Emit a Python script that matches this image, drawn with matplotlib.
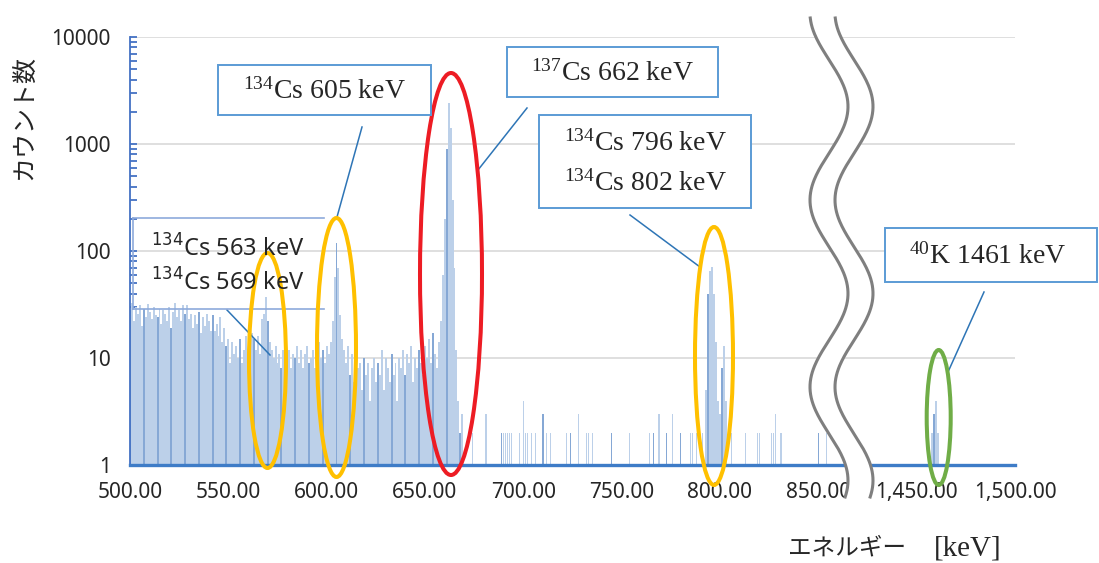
import matplotlib
matplotlib.use('Agg')
import matplotlib.pyplot as plt
from matplotlib.patches import Ellipse, Rectangle
import numpy as np

plt.rcParams['mathtext.fontset'] = 'custom'
plt.rcParams['mathtext.rm'] = 'Liberation Serif'
plt.rcParams['mathtext.it'] = 'Liberation Serif:italic'
plt.rcParams['mathtext.bf'] = 'Liberation Serif:bold'

# ---------------- data ----------------
dense_start_keV = 500          # 1 keV bins, 500 ... 669 keV
dense_counts = [
    28, 33, 22, 30, 26, 31, 20, 29, 24, 32,
    27, 23, 30, 25, 24, 29, 21, 28, 26, 22,
    30, 19, 27, 33, 24, 28, 22, 31, 26, 31,
    23, 26, 19, 25, 21, 27, 17, 24, 20, 26,
    22, 18, 25, 18, 21, 16, 24, 14, 19, 13,
    15, 9, 14, 11, 13, 10, 15, 9, 12, 16,
    11, 14, 17, 15, 12, 16, 11, 23, 26, 37,
    22, 14, 12, 10, 13, 9, 11, 8, 12, 10,
    9, 12, 8, 11, 10, 13, 9, 12, 8, 11,
    13, 9, 10, 12, 8, 11, 14, 10, 12, 9,
    13, 11, 14, 22, 57, 118, 70, 25, 15, 12,
    9, 13, 7, 11, 6, 10, 8, 9, 5, 10,
    7, 9, 4, 8, 10, 6, 9, 7, 12, 5,
    10, 8, 6, 11, 7, 9, 4, 10, 8, 12,
    7, 11, 9, 13, 6, 10, 8, 12, 9, 7,
    13, 10, 15, 9, 17, 11, 8, 14, 22, 60,
    200, 900, 2400, 1400, 300, 70, 12, 4, 2, 3,
]
sparse_energy = [674, 681, 689, 690, 691, 692, 693, 694, 698, 700, 701, 702, 704, 706,
                 710, 712, 714, 722, 724, 728, 732, 733, 735, 745, 754, 764, 766, 769,
                 773, 776, 780, 785, 786, 788, 791,
                 793, 794, 795, 796, 797, 798, 799, 800, 801, 802, 803, 806,
                 813, 819, 820, 826, 827, 828, 831, 850, 854,
                 1458, 1459, 1460, 1461]
sparse_counts = [2, 3, 2, 2, 2, 2, 2, 2, 2, 4, 2, 2, 2, 2,
                 3, 2, 2, 2, 2, 3, 2, 2, 2, 2, 2, 2, 2, 3,
                 2, 3, 2, 2, 2, 2, 2,
                 5, 40, 65, 71, 40, 14, 4, 3, 8, 13, 4, 2,
                 2, 2, 2, 2, 2, 3, 2, 2, 2,
                 2, 3, 4, 2]
x_ticks_keV = [500, 550, 600, 650, 700, 750, 800, 850, 1450, 1500]
x_tick_labels = ['500.00', '550.00', '600.00', '650.00', '700.00', '750.00',
                 '800.00', '850.00', '1,450.00', '1,500.00']
y_ticks = [1, 10, 100, 1000, 10000]
y_tick_labels = ['1', '10', '100', '1000', '10000']

# axis break: 875 ... 1425 keV removed
BREAK_SHIFT = 550
def to_plot_x(e):
    e = np.asarray(e, dtype=float)
    return np.where(e > 1000, e - BREAK_SHIFT, e)

# ---------------- figure ----------------
W, H = 1099, 563
fig = plt.figure(figsize=(W / 100, H / 100), dpi=100)
ax = fig.add_axes([130 / W, (H - 465) / H, 885 / W, 428 / H])

LIGHT = '#BCD0E9'
DARK = '#86A8D5'
AXBLUE = '#4472C4'

energy = np.concatenate([np.arange(dense_start_keV, dense_start_keV + len(dense_counts)),
                         np.array(sparse_energy)])
counts = np.concatenate([np.array(dense_counts), np.array(sparse_counts)]).astype(float)
mask = counts > 1
energy = energy[mask]
counts = counts[mask]
colors = [DARK if int(e) % 7 == 3 else LIGHT for e in energy]
widths = [1.0 if (e < 670 or 792 <= e <= 804 or e > 1000) else 0.55 for e in energy]
ax.bar(to_plot_x(energy), counts - 1, bottom=1, width=widths, color=colors,
       linewidth=0, zorder=2)

ax.set_yscale('log')
ax.set_ylim(1, 10000)
ax.set_xlim(500, 950)
ax.set_yticks(y_ticks)
ax.set_yticklabels(y_tick_labels)
ax.yaxis.set_minor_formatter(matplotlib.ticker.NullFormatter())
ax.set_xticks(to_plot_x(x_ticks_keV))
ax.set_xticklabels(x_tick_labels)

for lab in ax.get_xticklabels() + ax.get_yticklabels():
    lab.set_family('Noto Sans')
    lab.set_fontsize(15)
    lab.set_color('#262626')
ax.tick_params(axis='x', length=0, pad=12)
ax.tick_params(axis='y', which='both', direction='in', length=5, width=1.3,
               color=AXBLUE, pad=14)
ax.grid(axis='y', which='major', color='#D9D9D9', linewidth=1.2, zorder=0)
ax.set_axisbelow(True)
for s in ['top', 'right']:
    ax.spines[s].set_visible(False)
ax.spines['left'].set_color(AXBLUE)
ax.spines['left'].set_linewidth(1.3)
ax.spines['bottom'].set_color('#3E7CC7')
ax.spines['bottom'].set_linewidth(2.4)
ax.spines['bottom'].set_zorder(3)

# ---------------- overlay in pixel coordinates ----------------
ov = fig.add_axes([0, 0, 1, 1])
ov.set_xlim(0, W)
ov.set_ylim(H, 0)
ov.axis('off')
ov.patch.set_alpha(0)

# axis break (wavy lines)
yy = np.linspace(18, 497, 300)
xl = 829 - 19 * np.cos(2 * np.pi * (yy - 200) / 187)
xr = xl + 25
ov.fill_betweenx(yy, xl, xr, color='white', zorder=1)
ov.plot(xl, yy, color='#7F7F7F', lw=2.2, zorder=2)
ov.plot(xr, yy, color='#7F7F7F', lw=2.2, zorder=2)

# leader lines
LEAD = '#2E75B6'
for (x0, y0, x1, y1) in [(362, 127, 337, 217), (527, 108, 478, 170),
                         (630, 215, 700, 267), (984, 292, 948, 372),
                         (227, 310, 270, 355)]:
    ov.plot([x0, x1], [y0, y1], color=LEAD, lw=1.1, zorder=3)

# ellipses
for (cx, cy, w, h, c) in [(267.5, 360.5, 37, 215, '#FFC000'),
                          (336.5, 347.5, 39, 259, '#FFC000'),
                          (451, 274, 62, 402, '#ED1C24'),
                          (714, 356, 38, 258, '#FFC000'),
                          (938.7, 417.5, 24, 135, '#70AD47')]:
    ov.add_patch(Ellipse((cx, cy), w, h, fill=False, edgecolor=c, lw=2.9, zorder=4))

# boxes with text
BOXC = '#5B9BD5'
def box(l, t, r, b):
    ov.add_patch(Rectangle((l, t), r - l, b - t, facecolor='white', edgecolor=BOXC,
                           lw=1.4, zorder=5))
TXT = dict(family='Liberation Serif', fontsize=20, color='#262626', ha='center',
           va='center', zorder=6)
box(218, 65, 431, 115)
ov.text(324, 91, r'$^{134}$Cs 605 keV', **TXT)
box(507, 47, 718, 97)
ov.text(612, 73, r'$^{137}$Cs 662 keV', **TXT)
box(539, 115, 751, 208)
ov.text(645, 143, r'$^{134}$Cs 796 keV', **TXT)
ov.text(645, 183, r'$^{134}$Cs 802 keV', **TXT)
box(885, 228, 1097, 282)
ov.text(988, 256, r'$^{40}$K 1461 keV', **TXT)

# 563/569 keV label (transparent box)
ov.plot([133, 324], [218, 218], color='#8EAADB', lw=1.2, zorder=3)
ov.plot([133, 324], [309, 309], color='#8EAADB', lw=1.2, zorder=3)
ov.plot([133, 133], [218, 309], color='#8EAADB', lw=1.2, zorder=3)
STXT = dict(family='Noto Sans', fontsize=17, color='#262626', ha='left',
            va='baseline', zorder=6, math_fontfamily='dejavusans')
ov.text(151, 257, r'$^{134}$Cs 563 keV', **STXT)
ov.text(151, 291, r'$^{134}$Cs 569 keV', **STXT)

# axis titles
ov.text(24, 118, 'カウント数', family=['Noto Sans CJK JP'], fontsize=18,
        rotation=90, ha='center', va='center', color='#262626')
ov.text(788, 548, 'エネルギー', family=['Noto Sans CJK JP'], fontsize=17,
        ha='left', va='center', color='#262626')
ov.text(1002, 548, '[keV]', family='Liberation Serif', fontsize=21,
        ha='right', va='center', color='#262626')

fig.savefig('out.png', dpi=100)
